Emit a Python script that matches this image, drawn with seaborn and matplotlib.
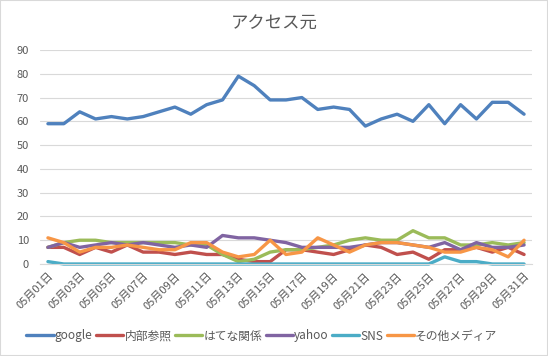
import matplotlib
matplotlib.use("Agg")
import matplotlib.pyplot as plt
import seaborn as sns
import pandas as pd
from matplotlib.patches import Rectangle

days = [f"05月{d:02d}日" for d in range(1, 32)]
series_names = ["google", "内部参照", "はてな関係", "yahoo", "SNS", "その他メディア"]
google = [59, 59, 64, 61, 62, 61, 62, 64, 66, 63, 67, 69, 79, 75, 69, 69,
          70, 65, 66, 65, 58, 61, 63, 60, 67, 59, 67, 61, 68, 68, 63]
naibu = [7, 7, 4, 7, 5, 8, 5, 5, 4, 5, 4, 4, 2, 1, 1, 6,
         6, 5, 4, 6, 8, 7, 4, 5, 2, 6, 6, 7, 5, 7, 4]
hatena = [7, 9, 10, 10, 9, 9, 9, 9, 9, 8, 8, 4, 1, 2, 5, 6,
          6, 7, 8, 10, 11, 10, 10, 14, 11, 11, 8, 8, 9, 8, 9]
yahoo = [7, 9, 7, 8, 9, 8, 9, 8, 7, 8, 7, 12, 11, 11, 10, 9,
         7, 7, 7, 7, 8, 9, 9, 8, 7, 9, 6, 9, 7, 7, 8]
sns_vals = [1, 0, 0, 0, 0, 0, 0, 0, 0, 0, 0, 0, 0, 0, 0, 0,
            0, 0, 0, 0, 0, 0, 0, 0, 0, 3, 1, 1, 0, 0, 0]
sonota = [11, 9, 5, 7, 7, 8, 7, 6, 6, 9, 9, 5, 3, 4, 10, 4,
          5, 11, 8, 5, 8, 9, 9, 8, 7, 5, 5, 7, 6, 3, 10]
colors = ["#4F81BD", "#C0504D", "#9BBB59", "#8064A2", "#4BACC6", "#F79646"]

all_vals = [google, naibu, hatena, yahoo, sns_vals, sonota]
rows = []
for name, vals in zip(series_names, all_vals):
    for i, v in enumerate(vals):
        rows.append({"idx": i, "day": days[i], "系列": name, "値": v})
df = pd.DataFrame(rows)

sns.set_theme(style="white")
plt.rcParams["font.family"] = ["Noto Sans CJK JP", "DejaVu Sans"]

fig = plt.figure(figsize=(5.48, 3.56), dpi=100)
ax = fig.add_axes([40/548, 1-264/356, (532-40)/548, (264-50)/356])

sns.lineplot(data=df, x="idx", y="値", hue="系列", hue_order=series_names,
             palette=dict(zip(series_names, colors)), linewidth=2.4, ax=ax,
             legend=True)
for ln in ax.lines:
    ln.set_clip_on(False)
    ln.set_solid_joinstyle("round")
    ln.set_solid_capstyle("round")

handles, labels = ax.get_legend_handles_labels()
ax.get_legend().remove()

ax.set_xlim(-0.5, 30.5)
ax.set_ylim(0, 90)
ax.set_yticks(range(0, 91, 10))
ax.yaxis.grid(True, color="#d9d9d9", linewidth=0.8)
ax.set_axisbelow(True)
for s in ["left", "right", "top"]:
    ax.spines[s].set_visible(False)
ax.spines["bottom"].set_color("#d9d9d9")
ax.spines["bottom"].set_linewidth(0.8)

ax.set_xticks(list(range(0, 31, 2)))
ax.set_xticklabels(days[::2], rotation=45, ha="right", va="top",
                   rotation_mode="anchor")
ax.set_xticks([-0.5 + 2 * k for k in range(16)], minor=True)
ax.tick_params(axis="x", which="major", length=0, pad=5, labelsize=8,
               colors="#595959")
ax.tick_params(axis="x", which="minor", length=4, width=0.8, color="#d9d9d9",
               direction="out")
ax.tick_params(axis="y", length=0, pad=8, labelsize=8, colors="#595959")
ax.set_xlabel("")
ax.set_ylabel("")

fig.text(0.5, 1 - 24/356, "アクセス元", ha="center", va="center",
         fontsize=12.5, color="#595959")

leg = fig.legend(handles, labels, loc="center", bbox_to_anchor=(0.478, 1 - 336/356),
                 ncol=6, frameon=False, fontsize=8.5, handlelength=2.3,
                 handletextpad=0.1, columnspacing=0.3, labelcolor="#595959")

fig.patches.append(Rectangle((0, 0), 1, 1, transform=fig.transFigure,
                             fill=False, edgecolor="#d9d9d9", linewidth=1.5))

fig.savefig("out.png", dpi=100, facecolor="white")
